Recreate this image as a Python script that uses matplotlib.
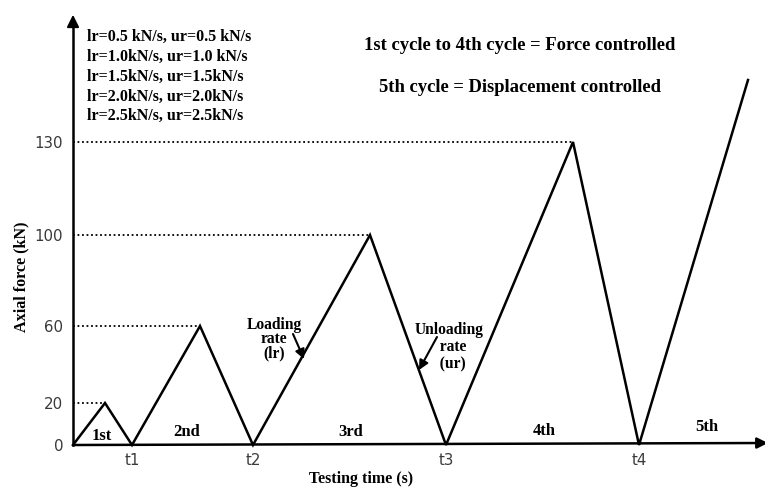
import numpy as np
import matplotlib
matplotlib.use("Agg")
import matplotlib.pyplot as plt

# --- data (schematic loading history) ---
t_points = [0, 32, 59, 127, 180, 297, 373, 500, 566, 675]
force = [0, 20, 0, 60, 0, 100, 0, 130, 0, 150]
peak_t = [32, 127, 297, 500]
peak_f = [20, 60, 100, 130]
y_ticks = [0, 20, 60, 100, 130]
t_ticks = [59, 180, 373, 566]
t_labels = ["t1", "t2", "t3", "t4"]
cycles = ["1st", "2nd", "3rd", "4th", "5th"]
rates = ["lr=0.5 kN/s, ur=0.5 kN/s",
         "lr=1.0kN/s, ur=1.0 kN/s",
         "lr=1.5kN/s, ur=1.5kN/s",
         "lr=2.0kN/s, ur=2.0kN/s",
         "lr=2.5kN/s, ur=2.5kN/s"]

# the drawing is not to scale: piecewise axis
f_knots = [-50, 0, 20, 60, 100, 130, 250]
h_knots = [-105, 0, 42, 119, 210, 303, 675]


def fwd(v):
    return np.interp(v, f_knots, h_knots)


def inv(v):
    return np.interp(v, h_knots, f_knots)


W, H = 765, 491
serif = "Liberation Serif"


def px(x, y):
    return x / W, 1 - y / H


fig = plt.figure(figsize=(W / 100, H / 100), dpi=100)
ax = fig.add_axes([73 / W, (H - 445) / H, (W - 73) / W, (445 - 12) / H])
ax.set_yscale("function", functions=(fwd, inv))
ax.set_xlim(0, W - 73)
ax.set_ylim(0, inv(433))
for s in ax.spines.values():
    s.set_visible(False)

ax.plot(t_points, force, color="black", lw=1.8, clip_on=False, solid_joinstyle="miter")
for tp, fp in zip(peak_t, peak_f):
    ax.plot([0, tp], [fp, fp], color="black", lw=1.3, ls=(0, (1, 1.5)))

ax.set_yticks(y_ticks)
ax.set_yticklabels([str(v) for v in y_ticks], fontsize=10.8, color="#3a3a3a")
ax.set_xticks(t_ticks)
ax.set_xticklabels(t_labels, fontsize=10.8, color="#3a3a3a")
ax.tick_params(axis="both", length=0)
ax.tick_params(axis="y", pad=7)
ax.tick_params(axis="x", pad=6)

ax.set_xlabel("Testing time (s)", fontfamily=serif, fontweight="bold", fontsize=11.5)
ax.xaxis.set_label_coords((361 - 73) / (W - 73), -(471 - 445) / 433)
ax.set_ylabel("Axial force (kN)", fontfamily=serif, fontweight="bold", fontsize=11.6)
ax.yaxis.set_label_coords((29 - 73) / (W - 73), (445 - 277) / 433)

# axes arrows
fig.add_artist(plt.Line2D([73 / W, 73 / W], [1 - 445 / H, 1 - 22 / H], color="black", lw=1.8))
ax.annotate("", xy=px(73, 12), xytext=px(73, 30), xycoords="figure fraction",
            arrowprops=dict(arrowstyle="-|>", color="black", lw=1.5, mutation_scale=18))
ax.annotate("", xy=px(768, 443), xytext=px(73, 445), xycoords="figure fraction",
            arrowprops=dict(arrowstyle="-|>", color="black", lw=1.8, mutation_scale=16,
                            shrinkA=0, shrinkB=0))

# cycle labels
cyc_pos = [(102, 436), (187, 432), (351, 432), (544, 431), (707, 427)]
for lab, (x, y) in zip(cycles, cyc_pos):
    fig.text(*px(x, y), lab, ha="center", va="center", fontfamily=serif,
             fontweight="bold", fontsize=12)

# loading rates list
for i, line in enumerate(rates):
    fig.text(*px(87, 37 + i * 19.8), line, ha="left", va="center", fontfamily=serif,
             fontweight="bold", fontsize=11.5)

fig.text(*px(520, 45), "1st cycle to 4th cycle = Force controlled", ha="center", va="center",
         fontfamily=serif, fontweight="bold", fontsize=13.4)
fig.text(*px(520, 88), "5th cycle = Displacement controlled", ha="center", va="center",
         fontfamily=serif, fontweight="bold", fontsize=13.4)

# rate annotations
txt = dict(ha="center", va="center", multialignment="center", fontfamily=serif,
           fontweight="bold", fontsize=11.2)
fig.text(*px(274, 339), "Loading\nrate\n(lr)", linespacing=0.85, **txt)
fig.text(*px(449, 347), "Unloading\n  rate\n  (ur)", linespacing=1.1, **txt)
arr = dict(arrowstyle="-|>", color="black", lw=1.5, mutation_scale=14, shrinkA=0, shrinkB=0)
ax.annotate("", xy=px(304, 359), xytext=px(293, 334), xycoords="figure fraction", arrowprops=arr)
ax.annotate("", xy=px(419, 370), xytext=px(437, 337), xycoords="figure fraction", arrowprops=arr)

fig.savefig("out.png", dpi=100)
